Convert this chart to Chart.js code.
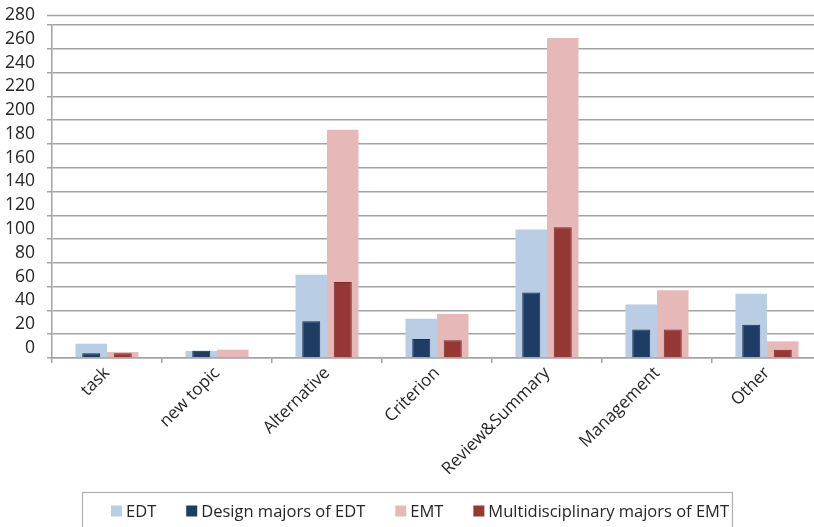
<!DOCTYPE html>
<html>
<head>
<meta charset="utf-8">
<script src="https://cdn.jsdelivr.net/npm/chart.js@4/dist/chart.umd.min.js"></script>
<style>
  html, body { margin: 0; padding: 0; background: #fff; width: 814px; height: 527px; overflow: hidden; }
  canvas { display: block; }
</style>
</head>
<body>
<canvas id="chart" width="840" height="527"></canvas>
<script>
// Categories of discussion content
const categories = ['task', 'new topic', 'Alternative', 'Criterion', 'Review&Summary', 'Management', 'Other'];

// Counts per category
const edt       = [12, 6, 70, 33, 108, 45, 54];
const designEdt = [4, 6, 31, 16, 55, 24, 28];
const emt       = [5, 7, 192, 37, 269, 57, 14];
const multiEmt  = [4, 0, 64, 15, 110, 24, 7];

// Value axis tick labels
const yTicks = [0, 20, 40, 60, 80, 100, 120, 140, 160, 180, 200, 220, 240, 260, 280];

const GRID = '#a3a3a3';
const TEXT = '#262626';
const FONT = '"Open Sans", "Noto Sans", sans-serif';

const seriesNames = ['EDT', 'Design majors of EDT', 'EMT', 'Multidisciplinary majors of EMT'];
const seriesColors = ['#B9CDE5', '#1F3D64', '#E6B9B8', '#953735'];

// Top frame line and boxed legend underneath the axis labels
const frameAndLegend = {
  id: 'frameAndLegend',
  afterDraw(chart) {
    const ctx = chart.ctx;
    ctx.save();
    ctx.strokeStyle = GRID;
    ctx.lineWidth = 1.5;
    ctx.beginPath();
    ctx.moveTo(47, 15.5);
    ctx.lineTo(chart.width, 15.5);
    ctx.stroke();

    // legend frame
    const boxL = 82.5, boxR = 732.5, boxT = 492.5;
    ctx.strokeStyle = '#b0b0b0';
    ctx.lineWidth = 1.2;
    ctx.strokeRect(boxL, boxT, boxR - boxL, 60);

    ctx.font = '16.5px ' + FONT;
    ctx.textBaseline = 'middle';
    ctx.textAlign = 'left';
    const sw = 11, swGap = 4, itemGap = 30;
    let x = 111;
    const cy = 511;
    seriesNames.forEach((name, i) => {
      ctx.fillStyle = seriesColors[i];
      ctx.fillRect(x, cy - sw / 2, sw, sw);
      ctx.fillStyle = TEXT;
      ctx.fillText(name, x + sw + swGap, cy + 1);
      x += sw + swGap + ctx.measureText(name).width + itemGap;
    });
    ctx.restore();
  }
};

// Each wide bar shares its slot with the narrow bar drawn inside it
const wide = { categoryPercentage: 0.573, barPercentage: 1.0, borderWidth: 0, order: 2 };
const narrow = { categoryPercentage: 0.573, barPercentage: 0.571, borderWidth: 1, order: 1 };

new Chart(document.getElementById('chart'), {
  type: 'bar',
  data: {
    labels: categories,
    datasets: [
      Object.assign({ label: seriesNames[0], data: edt, stack: 'edt', backgroundColor: seriesColors[0] }, wide),
      Object.assign({ label: seriesNames[1], data: designEdt, stack: 'edt', backgroundColor: seriesColors[1], borderColor: '#18314f' }, narrow),
      Object.assign({ label: seriesNames[2], data: emt, stack: 'emt', backgroundColor: seriesColors[2] }, wide),
      Object.assign({ label: seriesNames[3], data: multiEmt, stack: 'emt', backgroundColor: seriesColors[3], borderColor: '#7d2b29' }, narrow)
    ]
  },
  options: {
    responsive: false,
    animation: false,
    layout: { padding: { top: 25, right: 18, bottom: 39, left: 0 } },
    plugins: { legend: { display: false }, tooltip: { enabled: false } },
    scales: {
      x: {
        type: 'category',
        offset: true,
        grid: { display: true, drawOnChartArea: false, drawTicks: true, tickLength: 5, color: GRID, lineWidth: 1.5, offset: true },
        border: { display: true, color: GRID, width: 1.5 },
        ticks: { minRotation: 45, maxRotation: 45, autoSkip: false, color: TEXT, font: { family: FONT, size: 17 }, padding: 0 },
        afterFit(scale) { scale.height = 130; }
      },
      y: {
        min: 0,
        max: 280,
        stacked: false,
        afterBuildTicks(scale) { scale.ticks = yTicks.map(v => ({ value: v })); },
        grid: { color: GRID, lineWidth: 1.5, tickLength: 5 },
        border: { display: true, color: GRID, width: 1.5 },
        ticks: { autoSkip: false, labelOffset: -10, padding: 12, color: TEXT, font: { family: FONT, size: 17.5 } },
        afterFit(scale) { scale.width = 52; }
      }
    }
  },
  plugins: [frameAndLegend]
});
</script>
</body>
</html>
